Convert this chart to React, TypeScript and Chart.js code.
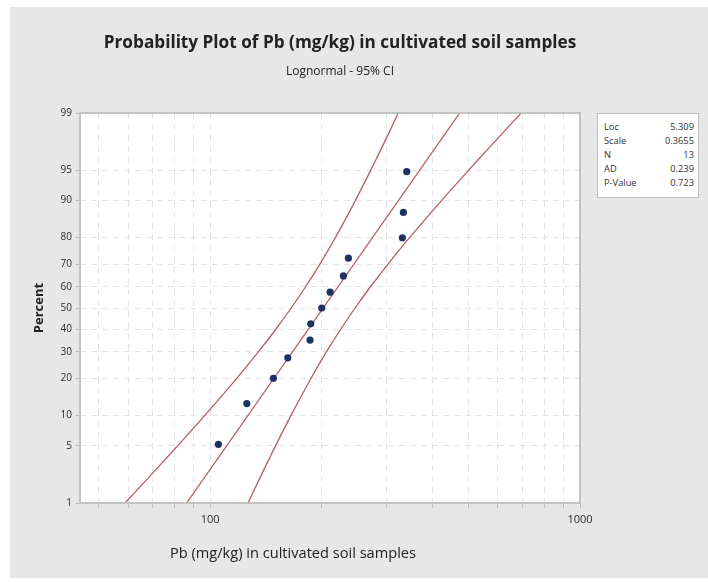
import React, { useEffect, useRef } from "react";
import { Chart, registerables } from "chart.js";

Chart.register(...registerables);

const titleText = "Probability Plot of Pb (mg/kg) in cultivated soil samples";
const subtitleText = "Lognormal - 95% CI";
const xAxisTitle = "Pb (mg/kg) in cultivated soil samples";
const yAxisTitle = "Percent";

// observed samples (Pb mg/kg) and their plotted percent (median ranks)
const samplePb = [105.3, 125.7, 148.3, 162.2, 186.3, 187.1, 200.4, 211.1, 229.3, 236.5, 331.0, 333.1, 340.1];
const samplePct = [5.2, 12.7, 20.1, 27.6, 35.1, 42.5, 50.0, 57.5, 64.9, 72.4, 79.9, 87.3, 94.8];

// fitted lognormal line
const fitPct = [1, 99];
const fitPb = [86.4, 473.1];

// 95% confidence bands
const ciPct = [1, 2, 3, 5, 10, 20, 30, 40, 50, 60, 70, 80, 90, 95, 97, 98, 99];
const ciLowerPb = [58.9, 67.2, 73.0, 81.7, 96.8, 117.9, 135.0, 150.6, 165.7, 181.2, 198.1, 218.2, 247.0, 271.9, 288.8, 301.7, 322.7];
const ciUpperPb = [126.6, 135.5, 141.5, 150.3, 165.5, 187.3, 206.3, 225.5, 246.6, 271.4, 302.7, 346.5, 422.2, 500.2, 559.5, 607.9, 693.5];

// axes
const yTickPct = [1, 5, 10, 20, 30, 40, 50, 60, 70, 80, 90, 95, 99];
const xTickVals = [50, 60, 70, 80, 90, 100, 200, 300, 400, 500, 600, 700, 800, 900, 1000];
const xTickLabeled = [100, 1000];
const xMin = 44.5;
const xMax = 1000;
const yMinPct = 1;
const yMaxPct = 99;

// statistics table
const statLabels = ["Loc", "Scale", "N", "AD", "P-Value"];
const statValues = ["5.309", "0.3655", "13", "0.239", "0.723"];

// inverse standard normal CDF (Acklam)
function probit(p: number): number {
  const a = [-3.969683028665376e1, 2.209460984245205e2, -2.759285104469687e2, 1.38357751867269e2, -3.066479806614716e1, 2.506628277459239];
  const b = [-5.447609879822406e1, 1.615858368580409e2, -1.556989798598866e2, 6.680131188771972e1, -1.328068155288572e1];
  const c = [-7.784894002430293e-3, -3.223964580411365e-1, -2.400758277161838, -2.549671010190029, 4.374664141464968, 2.938163982698783];
  const d = [7.784695709041462e-3, 3.224671290700398e-1, 2.445134137142996, 3.754408661907416];
  const pl = 0.02425;
  const ph = 1 - pl;
  if (p < pl) {
    const q = Math.sqrt(-2 * Math.log(p));
    return (((((c[0] * q + c[1]) * q + c[2]) * q + c[3]) * q + c[4]) * q + c[5]) / ((((d[0] * q + d[1]) * q + d[2]) * q + d[3]) * q + 1);
  }
  if (p <= ph) {
    const q = p - 0.5;
    const r = q * q;
    return ((((((a[0] * r + a[1]) * r + a[2]) * r + a[3]) * r + a[4]) * r + a[5]) * q) / (((((b[0] * r + b[1]) * r + b[2]) * r + b[3]) * r + b[4]) * r + 1);
  }
  const q = Math.sqrt(-2 * Math.log(1 - p));
  return -(((((c[0] * q + c[1]) * q + c[2]) * q + c[3]) * q + c[4]) * q + c[5]) / ((((d[0] * q + d[1]) * q + d[2]) * q + d[3]) * q + 1);
}
const zOf = (pct: number) => probit(pct / 100);

const FONT = "'Open Sans', 'Noto Sans', 'DejaVu Sans', sans-serif";
const LINE_COLOR = "#b95c5e";
const POINT_COLOR = "#1c3263";

const plotFrame = {
  id: "plotFrame",
  beforeDraw(chart: any) {
    const { ctx, chartArea } = chart;
    const { left, top, right, bottom } = chartArea;
    ctx.save();
    ctx.fillStyle = "#ffffff";
    ctx.fillRect(left, top, right - left, bottom - top);
    ctx.restore();
  },
  afterDraw(chart: any) {
    const { ctx, chartArea } = chart;
    const { left, top, right, bottom } = chartArea;
    ctx.save();
    ctx.strokeStyle = "#c2c2c2";
    ctx.lineWidth = 2;
    ctx.strokeRect(left, top, right - left, bottom - top);
    ctx.restore();
  },
};

export default function App() {
  const canvasRef = useRef<HTMLCanvasElement | null>(null);

  useEffect(() => {
    if (!canvasRef.current) return;
    const toPts = (xs: number[], ps: number[]) => xs.map((x, i) => ({ x, y: zOf(ps[i]) }));
    const chart = new Chart(canvasRef.current, {
      type: "scatter",
      data: {
        datasets: [
          {
            label: "Samples",
            data: toPts(samplePb, samplePct),
            backgroundColor: POINT_COLOR,
            borderColor: POINT_COLOR,
            pointRadius: 3.6,
            pointBorderWidth: 0,
            showLine: false,
          },
          {
            label: "Fit",
            data: toPts(fitPb, fitPct),
            borderColor: LINE_COLOR,
            borderWidth: 1.3,
            pointRadius: 0,
            showLine: true,
          },
          {
            label: "Lower CI",
            data: toPts(ciLowerPb, ciPct),
            borderColor: LINE_COLOR,
            borderWidth: 1.3,
            pointRadius: 0,
            showLine: true,
            tension: 0.25,
          },
          {
            label: "Upper CI",
            data: toPts(ciUpperPb, ciPct),
            borderColor: LINE_COLOR,
            borderWidth: 1.3,
            pointRadius: 0,
            showLine: true,
            tension: 0.25,
          },
        ],
      },
      options: {
        responsive: false,
        animation: false,
        layout: { padding: { left: 27, top: 113, right: 128, bottom: 4 } },
        plugins: {
          legend: { display: false },
          tooltip: { enabled: false },
          title: { display: false },
        },
        scales: {
          x: {
            type: "logarithmic",
            min: xMin,
            max: xMax,
            afterBuildTicks: (s: any) => {
              s.ticks = xTickVals.map((v) => ({ value: v }));
            },
            afterFit: (s: any) => {
              s.height = 75;
            },
            ticks: {
              autoSkip: false,
              maxRotation: 0,
              padding: 5,
              color: "#2a2a2a",
              font: { family: FONT, size: 11 },
              callback: (v: any) => (xTickLabeled.includes(Number(v)) ? String(v) : ""),
            },
            grid: {
              color: "#e3e3e3",
              lineWidth: 1,
              drawTicks: true,
              tickLength: 5,
              tickColor: "#bdbdbd",
            },
            border: { display: false, dash: [6, 5] },
          },
          y: {
            type: "linear",
            min: zOf(yMinPct),
            max: zOf(yMaxPct),
            afterBuildTicks: (s: any) => {
              s.ticks = yTickPct.map((p) => ({ value: zOf(p) }));
            },
            afterFit: (s: any) => {
              s.width = 53;
            },
            ticks: {
              autoSkip: false,
              padding: 3,
              color: "#2a2a2a",
              font: { family: FONT, size: 10 },
              callback: (_v: any, i: number) => String(yTickPct[i]),
            },
            grid: {
              color: "#e3e3e3",
              lineWidth: 1,
              drawTicks: true,
              tickLength: 5,
              tickColor: "#bdbdbd",
            },
            border: { display: false, dash: [6, 5] },
            title: {
              display: true,
              text: yAxisTitle,
              color: "#222",
              font: { family: FONT, size: 13, weight: "bold" },
              padding: { top: 4, bottom: 0 },
            },
          },
        },
      },
      plugins: [plotFrame],
    } as any);
    return () => chart.destroy();
  }, []);

  return (
    <div style={{ position: "absolute", left: 0, top: 0, width: 708, height: 582, background: "#ffffff", overflow: "hidden", fontFamily: FONT }}>
      <div style={{ position: "absolute", left: 10, top: 7, width: 698, height: 571, background: "#e7e7e7" }} />
      <canvas ref={canvasRef} width={708} height={582} style={{ position: "absolute", left: 0, top: 0, display: "block" }} />
      <div style={{ position: "absolute", left: 0, top: 31, width: 680, textAlign: "center", fontSize: 17.2, fontWeight: 700, lineHeight: "22px", color: "#222" }}>
        {titleText}
      </div>
      <div style={{ position: "absolute", left: 0, top: 63, width: 680, textAlign: "center", fontSize: 12, lineHeight: "16px", color: "#222" }}>
        {subtitleText}
      </div>
      <div style={{ position: "absolute", left: 93, top: 541, width: 400, textAlign: "center", fontSize: 14.6, lineHeight: "22px", color: "#222" }}>
        {xAxisTitle}
      </div>
      <div style={{ position: "absolute", left: 597, top: 113, width: 102, height: 85, background: "#fff", border: "1px solid #bdbdbd", boxSizing: "border-box", paddingTop: 6 }}>
        {statLabels.map((lab, i) => (
          <div key={lab} style={{ display: "flex", justifyContent: "space-between", fontSize: 9.3, lineHeight: "14px", padding: "0 4px 0 6px", color: "#333" }}>
            <span>{lab}</span>
            <span>{statValues[i]}</span>
          </div>
        ))}
      </div>
    </div>
  );
}
